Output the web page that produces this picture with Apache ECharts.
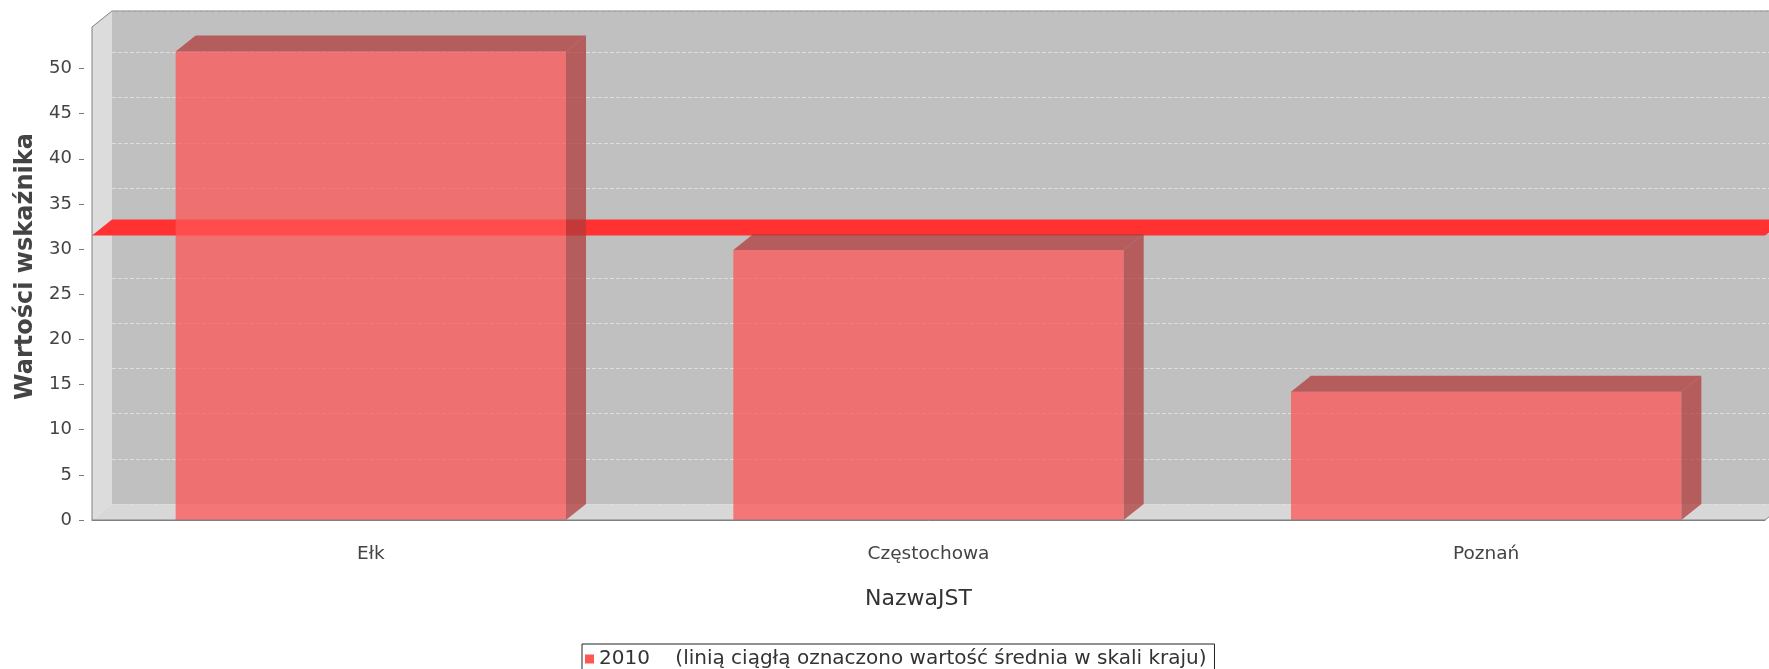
<!DOCTYPE html>
<html>
<head>
<meta charset="utf-8">
<script src="https://cdn.jsdelivr.net/npm/echarts@6/dist/echarts.min.js"></script>
<style>
    html, body {margin: 0; padding: 0; background: #fff;}
    #wykres {width: 1769px; height: 669px;}
</style>
</head>
<body>
<div id="wykres"></div>
<script>
// dane
var categories = ['Ełk', 'Częstochowa', 'Poznań'];
var values2010 = [51.9, 29.9, 14.2];
var averageValue = 31.5;          // średnia krajowa (czerwona linia)
var yTicks = [0, 5, 10, 15, 20, 25, 30, 35, 40, 45, 50];
var yMax = 54.6;
var seriesName = '2010    (linią ciągłą oznaczono wartość średnia w skali kraju)';

// głębokość efektu 3D
var DX = 20, DY = 16;
var FONT = 'DejaVu Sans';

function wykres() {
    var myChart = echarts.init(document.getElementById('wykres'));

    function renderWalls(params, api) {
        var r = params.coordSys;
        var x0 = r.x, y0 = r.y, x1 = r.x + r.width, y1 = r.y + r.height;
        return {
            type: 'group',
            children: [
                {type: 'rect', shape: {x: x0 + DX, y: y0 - DY, width: r.width, height: r.height},
                    style: {fill: '#c0c0c0'}},
                {type: 'polygon', shape: {points: [[x0, y0], [x0 + DX, y0 - DY], [x0 + DX, y1 - DY], [x0, y1]]},
                    style: {fill: '#dcdcdc'}},
                {type: 'polygon', shape: {points: [[x0, y1], [x0 + DX, y1 - DY], [x1 + DX, y1 - DY], [x1, y1]]},
                    style: {fill: '#d8d8d8'}}
            ]
        };
    }

    function renderOutline(params, api) {
        var r = params.coordSys;
        var x0 = r.x, y0 = r.y, x1 = r.x + r.width, y1 = r.y + r.height;
        return {
            type: 'polygon',
            shape: {points: [[x0, y1], [x0, y0], [x0 + DX, y0 - DY], [x1 + DX, y0 - DY], [x1 + DX, y1 - DY], [x1, y1]]},
            style: {fill: null, stroke: '#808080', lineWidth: 1}
        };
    }

    function renderAverage(params, api) {
        var r = params.coordSys;
        var x0 = r.x, x1 = r.x + r.width;
        var y = api.coord([0, api.value(1)])[1];
        return {
            type: 'polygon',
            shape: {points: [[x0, y], [x0 + DX, y - DY], [x1 + DX, y - DY], [x1, y]]},
            style: {fill: '#ff3131'}
        };
    }

    function renderBar(params, api) {
        var idx = api.value(0);
        var top = api.coord([idx, api.value(1)]);
        var base = api.coord([idx, 0]);
        var bw = api.size([1, 0])[0] * 0.7;
        var xl = top[0] - bw / 2, xr = top[0] + bw / 2;
        var yt = top[1], yb = base[1];
        var dark = 'rgba(178,59,59,0.75)';
        return {
            type: 'group',
            children: [
                {type: 'rect', shape: {x: xl, y: yt, width: bw, height: yb - yt},
                    style: {fill: 'rgba(255,85,85,0.75)'}},
                {type: 'polygon', shape: {points: [[xl, yt], [xl + DX, yt - DY], [xr + DX, yt - DY], [xr, yt]]},
                    style: {fill: dark}},
                {type: 'polygon', shape: {points: [[xr, yt], [xr + DX, yt - DY], [xr + DX, yb - DY], [xr, yb]]},
                    style: {fill: dark}}
            ]
        };
    }

    option = {
        animation: false,
        backgroundColor: '#fff',
        textStyle: {fontFamily: FONT},
        grid: [
            {left: 92, top: 27, width: 1673, height: 493},      // przód
            {left: 92 + DX, top: 27 - DY, width: 1673, height: 493}  // tylna ściana
        ],
        legend: {
            left: 582,
            top: 644,
            padding: [5, 8, 12, 3],
            borderColor: '#222',
            borderWidth: 1,
            borderRadius: 0,
            itemWidth: 9,
            itemHeight: 9,
            icon: 'rect',
            data: [{name: seriesName, itemStyle: {color: '#ff5555'}}],
            textStyle: {fontFamily: FONT, fontSize: 20, color: '#333'}
        },
        xAxis: [
            {
                type: 'category',
                gridIndex: 0,
                data: categories,
                z: 5,
                axisLine: {lineStyle: {color: '#808080', width: 1}},
                axisTick: {show: false},
                axisLabel: {margin: 25, fontSize: 18.5, color: '#444', fontFamily: FONT},
                name: 'NazwaJST',
                nameLocation: 'middle',
                nameGap: 68,
                nameTextStyle: {fontSize: 22, color: '#333', fontFamily: FONT, padding: [0, 20, 0, 0]}
            },
            {
                type: 'category',
                gridIndex: 1,
                data: categories,
                axisLine: {show: false},
                axisTick: {show: false},
                axisLabel: {show: false},
                splitLine: {show: false}
            }
        ],
        yAxis: [
            {
                type: 'value',
                gridIndex: 0,
                min: 0,
                max: yMax,
                interval: 5,
                offset: 8,
                axisLine: {show: false},
                axisTick: {show: true, length: 5, customValues: yTicks, lineStyle: {color: '#7a7a7a'}},
                axisLabel: {customValues: yTicks, margin: 12, fontSize: 18, color: '#444', fontFamily: FONT},
                splitLine: {show: false},
                name: 'Wartości wskaźnika',
                nameLocation: 'middle',
                nameRotate: 90,
                nameGap: 44,
                nameTextStyle: {fontSize: 24, fontWeight: 'bold', color: '#444', fontFamily: FONT, padding: [0, 0, 0, 14]}
            },
            {
                type: 'value',
                gridIndex: 1,
                min: 0,
                max: yMax,
                interval: 5,
                z: 2,
                axisLine: {show: false},
                axisTick: {show: false},
                axisLabel: {show: false},
                splitLine: {show: true, lineStyle: {color: '#dedede', width: 1, type: [4, 2]}}
            }
        ],
        series: [
            {
                type: 'custom',
                name: 'tlo',
                xAxisIndex: 0, yAxisIndex: 0,
                z: 1,
                silent: true,
                renderItem: renderWalls,
                data: [[0, 0]]
            },
            {
                type: 'custom',
                name: 'srednia',
                xAxisIndex: 0, yAxisIndex: 0,
                z: 3,
                silent: true,
                renderItem: renderAverage,
                encode: {x: 0, y: 1},
                data: [[0, averageValue]]
            },
            {
                type: 'custom',
                name: seriesName,
                xAxisIndex: 0, yAxisIndex: 0,
                z: 4,
                itemStyle: {color: '#ff5555'},
                renderItem: renderBar,
                encode: {x: 0, y: 1},
                data: categories.map(function (c, i) { return [i, values2010[i]]; })
            },
            {
                type: 'custom',
                name: 'ramka',
                xAxisIndex: 0, yAxisIndex: 0,
                z: 5,
                silent: true,
                renderItem: renderOutline,
                data: [[0, 0]]
            }
        ]
    };

    myChart.setOption(option);
}

wykres();
</script>
</body>
</html>
